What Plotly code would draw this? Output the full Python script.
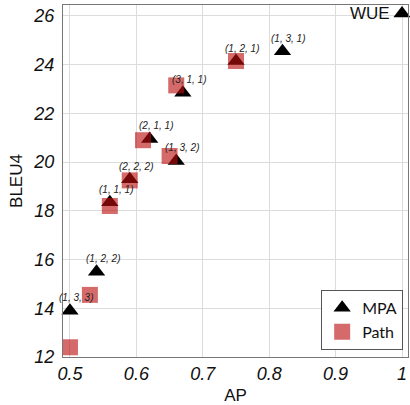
import plotly.graph_objects as go

# Data
mpa_labels = ["(1, 3, 3)", "(1, 2, 2)", "(1, 1, 1)", "(2, 2, 2)", "(2, 1, 1)",
              "(1, 3, 2)", "(3, 1, 1)", "(1, 2, 1)", "(1, 3, 1)", "WUE"]
mpa_ap = [0.50, 0.54, 0.56, 0.59, 0.62, 0.66, 0.67, 0.75, 0.82, 1.00]
mpa_bleu = [13.9, 15.5, 18.35, 19.3, 20.95, 20.05, 22.85, 24.15, 24.55, 26.1]

path_ap = [0.50, 0.53, 0.56, 0.59, 0.61, 0.65, 0.66, 0.75]
path_bleu = [12.4, 14.55, 18.2, 19.25, 20.9, 20.25, 23.15, 24.15]

x_ticks = [0.5, 0.6, 0.7, 0.8, 0.9, 1.0]
x_ticklabels = ["0.5", "0.6", "0.7", "0.8", "0.9", "1"]
y_ticks = [12, 14, 16, 18, 20, 22, 24, 26]

fig = go.Figure()
fig.add_trace(go.Scatter(
    x=mpa_ap, y=mpa_bleu, mode="markers", name="MPA",
    marker=dict(symbol="triangle-up", size=15, color="black"),
    cliponaxis=False,
))
fig.add_trace(go.Scatter(
    x=path_ap, y=path_bleu, mode="markers", name="Path",
    marker=dict(symbol="square", size=16, color="rgb(188,14,14)", opacity=0.62),
    cliponaxis=False,
))

for lab, xv, yv in zip(mpa_labels, mpa_ap, mpa_bleu):
    if lab == "WUE":
        fig.add_annotation(x=xv, y=yv, text=lab, showarrow=False,
                           xanchor="right", yanchor="middle", xshift=-10, yshift=0,
                           font=dict(family="Liberation Sans", size=17, color="#111"))
    else:
        fig.add_annotation(x=xv, y=yv, text=lab, showarrow=False,
                           xanchor="center", yanchor="middle", xshift=6, yshift=13,
                           font=dict(family="Liberation Sans", size=10, color="#222",
                                     style="italic"))

axis_common = dict(
    showgrid=True, gridcolor="#dcdcdc", gridwidth=1,
    showline=True, linecolor="#777", linewidth=1, mirror=True,
    zeroline=False, ticks="",
    tickfont=dict(family="Liberation Sans", size=18, color="#111", style="italic"),
    title_font=dict(family="Liberation Sans", size=17, color="#111"),
)

fig.update_xaxes(range=[0.4895, 1.009], tickvals=x_ticks, ticktext=x_ticklabels,
                 title_text="AP", title_standoff=8, **axis_common)
fig.update_yaxes(range=[12, 26.45], tickvals=y_ticks,
                 title_text="BLEU4", title_standoff=6, ticklabelstandoff=4, **axis_common)

fig.update_layout(
    width=410, height=405,
    margin=dict(l=63, r=2, t=5, b=48),
    plot_bgcolor="white", paper_bgcolor="white",
    showlegend=True,
    legend=dict(x=0.986, y=0.02, xanchor="right", yanchor="bottom",
                bgcolor="white", bordercolor="#555", borderwidth=1,
                font=dict(family="Lato", size=16, color="#111"),
                itemwidth=30, tracegroupgap=0),
)

fig.write_html("out.html")
